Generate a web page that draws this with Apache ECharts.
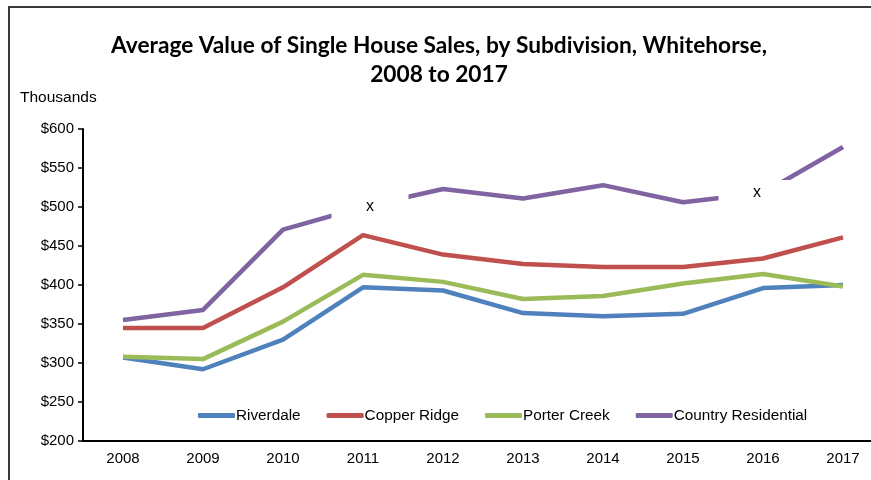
<!DOCTYPE html>
<html lang="en">
<head>
  <meta charset="UTF-8">
  <title>Average Value of Single House Sales, Whitehorse</title>
  <script src="https://cdn.jsdelivr.net/npm/echarts@6/dist/echarts.min.js"></script>
  <style>
    html, body { margin: 0; padding: 0; background: #fff; overflow: hidden; }
    /* plot runs a little past the right edge of the window, like the cropped original */
    #chart { width: 878px; height: 480px; }
  </style>
</head>
<body>
  <div id="chart"></div>

<script>
  // years on the x axis
  const years = ['2008', '2009', '2010', '2011', '2012', '2013', '2014', '2015', '2016', '2017'];

  // average value, thousands of dollars
  const riverdale   = [307, 292, 330, 397, 393, 364, 360, 363, 396, 400];
  const copperRidge = [345, 345, 397, 464, 439, 427, 423, 423, 434, 461];
  const porterCreek = [308, 305, 353, 413, 404, 382, 386, 402, 414, 398];
  const countryRes  = [355, 368, 471, 500, 523, 511, 528, 506, 518, 577];

  // points that were suppressed in the source and shown as "x"
  const suppressed = ['2011', '2016'];

  const colors = ['#4F81BD', '#C0504D', '#9BBB59', '#8064A2'];

  function lineSeries(name, data, color) {
    return {
      name: name,
      type: 'line',
      data: data,
      symbol: 'none',
      lineStyle: { width: 4.5, color: color },
      itemStyle: { color: color }
    };
  }

  function loadChart() {
    const chart = echarts.init(document.getElementById('chart'));

    const purple = lineSeries('Country Residential', countryRes, colors[3]);
    // white box with "x" hides the line around the suppressed years
    purple.markPoint = {
      symbol: 'rect',
      symbolSize: [77, 26],
      itemStyle: { color: '#fff' },
      label: {
        show: true,
        formatter: 'x',
        color: '#000',
        fontFamily: 'Liberation Sans, Arial',
        fontSize: 16
      },
      data: suppressed.map((y, i) => ({
        coord: [y, countryRes[years.indexOf(y)]],
        symbolOffset: i === 0 ? [7, 0] : [-6, 0]
      }))
    };

    const option = {
      animation: false,
      title: {
        text: 'Average Value of Single House Sales, by Subdivision, Whitehorse,\n2008 to 2017',
        left: 'center',
        top: 26,
        textStyle: {
          fontFamily: 'Lato',
          fontWeight: 'bold',
          fontSize: 22.7,
          lineHeight: 29,
          color: '#000'
        }
      },
      graphic: [
        { type: 'line', shape: { x1: 9, y1: 7, x2: 9, y2: 480 }, style: { stroke: '#3a3a3a', lineWidth: 2 } },
        { type: 'line', shape: { x1: 8, y1: 7, x2: 878, y2: 7 }, style: { stroke: '#3a3a3a', lineWidth: 2 } },
        {
          type: 'text', left: 20, top: 90,
          style: { text: 'Thousands', fontFamily: 'Liberation Sans, Arial', fontSize: 15.5, fill: '#000' }
        }
      ],
      legend: {
        left: 193,
        top: 403,
        icon: 'roundRect',
        itemWidth: 37,
        itemHeight: 5,
        itemGap: 26,
        textStyle: { fontFamily: 'Liberation Sans, Arial', fontSize: 15.3, color: '#000', padding: [0, 0, 0, -4] },
        data: ['Riverdale', 'Copper Ridge', 'Porter Creek', 'Country Residential']
      },
      grid: {
        left: 83,
        width: 800,
        top: 129,
        height: 312,
        outerBoundsMode: 'none'
      },
      xAxis: {
        type: 'category',
        data: years,
        boundaryGap: true,
        axisLine: { lineStyle: { color: '#000', width: 2 } },
        axisTick: { length: 5, lineStyle: { color: '#000', width: 1.5 } },
        axisLabel: { color: '#000', fontFamily: 'Liberation Sans, Arial', fontSize: 15, margin: 10 }
      },
      yAxis: {
        type: 'value',
        min: 200,
        max: 600,
        interval: 50,
        axisLine: { show: true, lineStyle: { color: '#000', width: 2 } },
        axisTick: { show: true, length: 5, lineStyle: { color: '#000', width: 1.5 } },
        splitLine: { show: false },
        axisLabel: {
          color: '#000',
          fontFamily: 'Liberation Sans, Arial',
          fontSize: 15,
          margin: 9,
          formatter: '${value}'
        }
      },
      series: [
        lineSeries('Riverdale', riverdale, colors[0]),
        lineSeries('Copper Ridge', copperRidge, colors[1]),
        lineSeries('Porter Creek', porterCreek, colors[2]),
        purple
      ]
    };

    chart.setOption(option);
  }

  loadChart();
</script>
</body>
</html>
